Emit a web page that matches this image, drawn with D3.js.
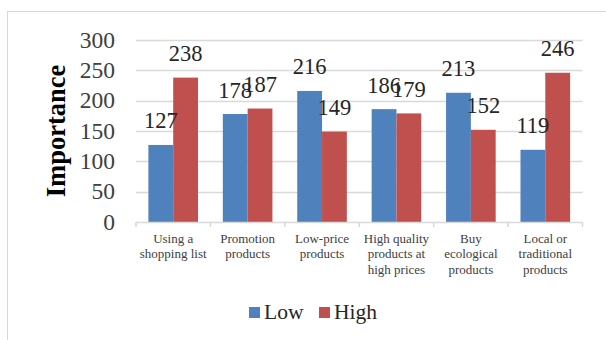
<!DOCTYPE html>
<html><head><meta charset="utf-8">
<script src="https://cdn.jsdelivr.net/npm/d3@7"></script>
<style>body{margin:0;background:#fff}svg{display:block}</style>
</head><body>
<svg id="c" width="606" height="340"></svg>
<script>
const categories = [["Using a","shopping list"],["Promotion","products"],["Low-price","products"],["High quality","products at","high prices"],["Buy","ecological","products"],["Local or","traditional","products"]];
const seriesNames = ["Low","High"];
const lowValues = [127,178,216,186,213,119];
const highValues = [238,187,149,179,152,246];
const yTicks = [0,50,100,150,200,250,300];
const colors = ["#4F81BD","#C0504D"];

const svg = d3.select("#c");
const font = "'Liberation Serif','Times New Roman',serif";
svg.append("rect").attr("x",7.5).attr("y",11.5).attr("width",640).attr("height",360)
  .attr("fill","#fff").attr("stroke","#d9d9d9");

const L=136, R=582.5, T=40, B=222;
const x0 = d3.scaleBand().domain(d3.range(categories.length)).range([L,R]).paddingInner(1/3).paddingOuter(1/6);
const x1 = d3.scaleBand().domain([0,1]).range([0,x0.bandwidth()]);
const y = d3.scaleLinear().domain([0,300]).range([B,T]);

// gridlines
svg.append("g").selectAll("line").data(yTicks.filter(d=>d>0)).join("line")
  .attr("x1",L).attr("x2",R).attr("y1",d=>Math.round(y(d))+0.5).attr("y2",d=>Math.round(y(d))+0.5)
  .attr("stroke","#d9d9d9").attr("stroke-width",1.5);

// y tick labels
svg.append("g").selectAll("text").data(yTicks).join("text")
  .attr("x",115).attr("y",d=>y(d)+7.5).attr("text-anchor","end")
  .attr("font-family",font).attr("font-size",23.5).attr("fill","#404040").text(d=>d);

// axis title
svg.append("text").attr("transform","translate(65,131) rotate(-90)").attr("text-anchor","middle")
  .attr("font-family",font).attr("font-size",26.5).attr("font-weight","bold").attr("fill","#000").text("Importance");

const data = categories.map((c,i)=>({i, vals:[lowValues[i],highValues[i]]}));
const groups = svg.append("g").selectAll("g").data(data).join("g")
  .attr("transform",d=>`translate(${x0(d.i)},0)`);
groups.selectAll("rect").data(d=>d.vals.map((v,k)=>({v,k}))).join("rect")
  .attr("x",d=>x1(d.k)).attr("width",x1.bandwidth()).attr("y",d=>y(d.v)).attr("height",d=>B-y(d.v))
  .attr("fill",d=>colors[d.k]);

// x axis line and ticks
svg.append("line").attr("x1",L).attr("x2",R).attr("y1",B+0.5).attr("y2",B+0.5).attr("stroke","#d9d9d9").attr("stroke-width",1.5);
const tickXs = d3.range(categories.length+1).map(i=> i<categories.length ? x0(i)-x0.step()*x0.paddingOuter() : R);
svg.append("g").selectAll("line").data(tickXs).join("line")
  .attr("x1",d=>d).attr("x2",d=>d).attr("y1",B).attr("y2",B+5).attr("stroke","#d9d9d9").attr("stroke-width",1.5);

// data labels
groups.selectAll("text.lbl").data(d=>d.vals.map((v,k)=>({v,k}))).join("text").attr("class","lbl")
  .attr("x",d=>x1(d.k)+x1.bandwidth()/2).attr("y",d=>y(d.v)-16.5).attr("text-anchor","middle")
  .attr("font-family",font).attr("font-size",22.5).attr("fill","#262626").text(d=>d.v);

// category labels
const cl = svg.append("g").selectAll("text").data(data).join("text")
  .attr("text-anchor","middle").attr("font-family",font).attr("font-size",13).attr("fill","#404040");
cl.each(function(d){
  const t=d3.select(this);
  categories[d.i].forEach((line,j)=>{
    t.append("tspan").attr("x",x0(d.i)+x0.bandwidth()/2).attr("y",242.5+j*15.5).text(line);
  });
});

// legend
const lg = svg.append("g");
const legendX=[249,319];
seriesNames.forEach((n,k)=>{
  lg.append("rect").attr("x",legendX[k]).attr("y",307).attr("width",11).attr("height",11).attr("fill",colors[k]);
  lg.append("text").attr("x",legendX[k]+15).attr("y",319).attr("font-family",font).attr("font-size",21.5).attr("fill","#262626").text(n);
});
</script>
</body></html>
